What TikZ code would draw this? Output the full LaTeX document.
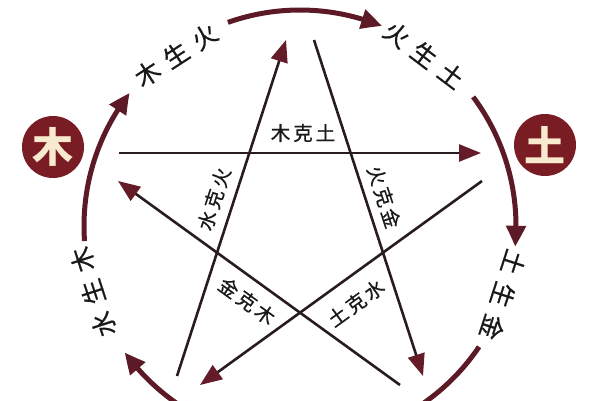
\documentclass[tikz,border=0pt]{standalone}
\usepackage{fontspec}
\newfontfamily\cjk[FakeBold=0.6]{Noto Sans CJK SC}
\newfontfamily\cjkb{Noto Sans CJK SC}
\usetikzlibrary{arrows.meta,bending}
\definecolor{ringc}{RGB}{92,26,38}
\definecolor{headc}{RGB}{100,28,40}
\definecolor{linec}{RGB}{40,28,32}
\definecolor{elemc}{RGB}{122,28,36}
\definecolor{elemt}{RGB}{248,234,206}
\definecolor{txtc}{RGB}{25,25,25}
\begin{document}
\begin{tikzpicture}[x=1pt,y=1pt,
  ring/.style={draw=ringc, line width=5pt, -{Triangle[length=21pt,width=19pt,bend]}},
  star/.style={draw=linec, line width=2.6pt, -{Triangle[length=22pt,width=17pt,color=headc]}},
  ringlabel/.style={font=\cjk\fontsize{25}{25}\selectfont, text=txtc, inner sep=0pt},
  starlabel/.style={font=\cjk\fontsize{19.5}{19.5}\selectfont, text=txtc, inner sep=0pt},
  elem/.style={circle, fill=elemc, minimum size=62pt, inner sep=0pt, text=elemt, font=\cjkb\bfseries\fontsize{41}{41}\selectfont}]
\useasboundingbox (0,0) rectangle (600,400);
\fill[white] (0,0) rectangle (600,400);
\clip (0,0) rectangle (600,400);
% centre of the ring
\coordinate (C) at (300,174);
% ring arcs
\draw[ring] ([shift={(184:216)}]C) arc[start angle=184, end angle=142, radius=216];
\draw[ring] ([shift={(109.5:216)}]C) arc[start angle=109.5, end angle=67.7, radius=216];
\draw[ring] ([shift={(36.7:216)}]C) arc[start angle=36.7, end angle=-5.5, radius=216];
\draw[ring] ([shift={(-34:216)}]C) arc[start angle=-34, end angle=-76, radius=216];
\draw[ring] ([shift={(-102:216)}]C) arc[start angle=-102, end angle=-144.2, radius=216];
% ring labels
\node[ringlabel, rotate=33] (l1) at (176,345) {木\hspace{9pt}生\hspace{9pt}火};
\node[ringlabel, rotate=-37] (l2) at (424,345) {火\hspace{9pt}生\hspace{9pt}土};
\node[ringlabel, rotate=-108] (l3) at (503,105) {土\hspace{9pt}生\hspace{9pt}金};
\node[ringlabel, rotate=108] (l4) at (93,108) {水\hspace{9pt}生\hspace{9pt}木};
% elements
\node[elem] (mu) at (53,253) {木};
\node[elem] (tu) at (545,255) {土};
% star end points
\coordinate (a1) at (119,247); \coordinate (a2) at (481,247);
\coordinate (b1) at (177,24);  \coordinate (b2) at (286,360);
\coordinate (c1) at (314,360); \coordinate (c2) at (423,24);
\coordinate (d1) at (482,219); \coordinate (d2) at (200,15);
\coordinate (e1) at (400,15);  \coordinate (e2) at (118,219);
\draw[star] (a1) -- (a2);
\draw[star] (b1) -- (b2);
\draw[star] (c1) -- (c2);
\draw[star] (d1) -- (d2);
\draw[star] (e1) -- (e2);
% star labels
\node[starlabel] (s1) at (303,267) {木\hspace{3pt}克\hspace{3pt}土};
\node[starlabel, rotate=72] (s2) at (214,201) {水\hspace{3pt}克\hspace{3pt}火};
\node[starlabel, rotate=-72] (s3) at (384,203) {火\hspace{3pt}克\hspace{3pt}金};
\node[starlabel, rotate=-36] (s4) at (247,99) {金\hspace{3pt}克\hspace{3pt}木};
\node[starlabel, rotate=36] (s5) at (356,97) {土\hspace{3pt}克\hspace{3pt}水};
\end{tikzpicture}
\end{document}
